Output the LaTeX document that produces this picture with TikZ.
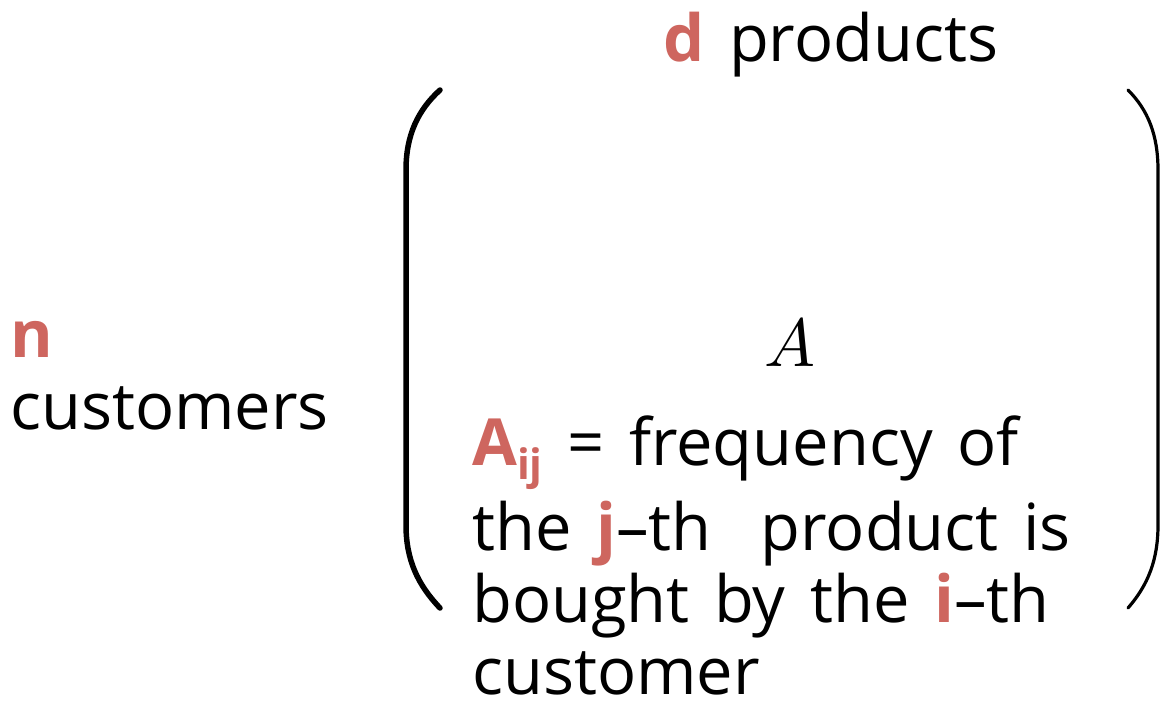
\documentclass[tikz,border=0pt]{standalone}
\usepackage{fontspec}
\setmainfont{Open Sans}
\definecolor{accent}{HTML}{CE665F}
\newcommand{\hl}[1]{{\color{accent}\bfseries #1}}
\newcommand{\bigtxt}{\fontsize{65}{73}\selectfont\spaceskip=0.38em\relax}
\begin{document}
\begin{tikzpicture}[x=1pt,y=-1pt,
  txt/.style={inner sep=0pt,anchor=base west,font=\bigtxt},
  paren/.style={line cap=round,line join=round}]
\useasboundingbox (0,0) rectangle (1162,701);
% header
\node[txt] (prod) at (663,62) {\hl{d} products};
% left label
\node[txt] (n) at (10,357) {\hl{n}};
\node[txt] (cust) at (10,429) {customers};
% parentheses
\draw[paren,line width=5.5pt] (440,90) .. controls (418,110) and (406,135) .. (406,170)
  -- (406,525) .. controls (406,560) and (418,585) .. (440,608);
\draw[paren,line width=3.2pt] (1128,90) .. controls (1148,110) and (1158,135) .. (1158,170)
  -- (1158,525) .. controls (1158,560) and (1148,585) .. (1128,608);
% matrix symbol
\node[inner sep=0pt,anchor=base,scale=6.8] (A) at (790,366) {$A$};
% description
\node[txt] (l1) at (472,465) {\hl{A}\raisebox{-14pt}{\color{accent}\bfseries\fontsize{42}{42}\selectfont ij} = frequency of};
\node[txt] (l2) at (472,550) {the \hl{j}\textendash th\ \ product is};
\node[txt] (l3) at (472,622) {bought by the \hl{i}\textendash th};
\node[txt] (l4) at (472,694) {customer};
\end{tikzpicture}
\end{document}
